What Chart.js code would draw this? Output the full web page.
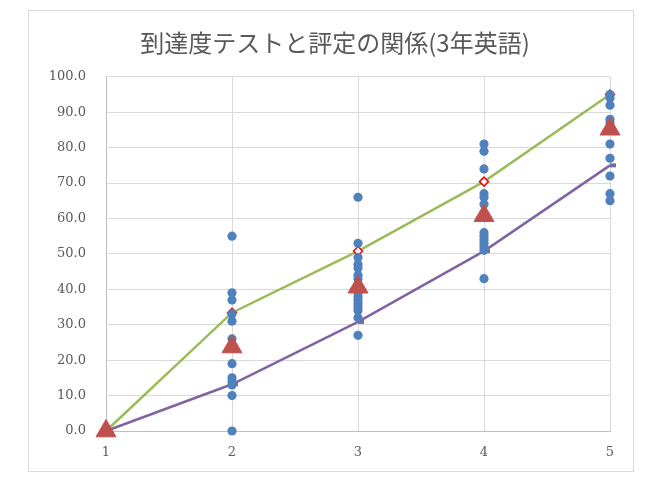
<!DOCTYPE html>
<html>
<head>
<meta charset="utf-8">
<script src="https://cdn.jsdelivr.net/npm/chart.js@4"></script>
<style>
  body { margin: 0; background: #fff; }
  #frame {
    position: absolute; left: 28px; top: 10px;
    width: 604px; height: 460px;
    border: 1px solid #d9d9d9;
  }
  #chart { position: absolute; left: 0; top: 0; }
</style>
</head>
<body>
<div id="frame"></div>
<canvas id="chart" width="670" height="483"></canvas>
<script>
/* =========================================================
   DATA
========================================================= */
const titleText = '到達度テストと評定の関係(3年英語)';
const grades = [1, 2, 3, 4, 5];

// 到達度テストの得点 (評定ごと)
const scoresGrade2 = [55, 39, 37, 33, 31, 26, 19, 15, 14, 13, 10, 0];
const scoresGrade3 = [66, 53, 49, 47, 46, 44, 43, 41, 39, 38, 37, 36, 35, 34, 32, 27];
const scoresGrade4 = [81, 79, 74, 67, 66, 64, 56, 55, 54, 53, 52, 51, 43];
const scoresGrade5 = [95, 94, 92, 88, 87, 81, 77, 72, 67, 65];

// 平均・上限・下限
const meanScores = [0, 23.7, 40.6, 60.8, 85.2];
const upperLine = [0, 33.4, 50.8, 70.4, 95.0];
const lowerLine = [0, 13.2, 30.8, 50.8, 75.0];

/* =========================================================
   BUILD POINTS
========================================================= */
const scoreGroups = [[], scoresGrade2, scoresGrade3, scoresGrade4, scoresGrade5];
const scorePoints = [];
scoreGroups.forEach((list, i) => {
    list.forEach(v => scorePoints.push({ x: grades[i], y: v }));
});
const toXY = arr => arr.map((v, i) => ({ x: grades[i], y: v }));

/* =========================================================
   CHART
========================================================= */
const tickColor = '#595959';

new Chart(document.getElementById('chart'), {
    type: 'scatter',
    data: {
        datasets: [
            {
                label: '平均',
                data: toXY(meanScores),
                clip: false,
                pointStyle: 'triangle',
                pointRadius: 11.5,
                backgroundColor: '#C0504D',
                borderColor: '#C0504D',
                borderWidth: 1
            },
            {
                label: '得点',
                data: scorePoints,
                clip: false,
                pointStyle: 'circle',
                pointRadius: 4.6,
                backgroundColor: '#4F81BD',
                borderColor: '#4F81BD',
                borderWidth: 0
            },
            {
                label: '上限',
                data: toXY(upperLine),
                clip: false,
                showLine: true,
                borderColor: '#9BBB59',
                borderWidth: 2.5,
                pointStyle: 'rectRot',
                pointRadius: 4.5,
                pointBackgroundColor: '#ffffff',
                pointBorderColor: '#FF0000',
                pointBorderWidth: 1.5
            },
            {
                label: '下限',
                data: toXY(lowerLine),
                clip: false,
                showLine: true,
                borderColor: '#8064A2',
                borderWidth: 2.5,
                pointStyle: 'dash',
                pointRadius: 6,
                pointBorderColor: '#8064A2',
                pointBorderWidth: 4
            }
        ]
    },
    options: {
        responsive: false,
        animation: false,
        layout: { padding: { left: 36, right: 36, top: 0, bottom: 0 } },
        plugins: {
            legend: { display: false },
            tooltip: { enabled: false },
            title: {
                display: true,
                text: titleText,
                color: tickColor,
                font: { family: '"Noto Sans CJK JP", sans-serif', size: 24, weight: 'normal' },
                padding: { top: 28, bottom: 20 }
            }
        },
        scales: {
            x: {
                type: 'linear',
                min: 1,
                max: 5,
                afterFit: s => { s.height = 52; },
                grid: { color: '#d9d9d9', drawTicks: false },
                border: { color: '#bfbfbf' },
                ticks: {
                    stepSize: 1,
                    padding: 14,
                    color: tickColor,
                    font: { family: '"DejaVu Serif", serif', size: 13 }
                }
            },
            y: {
                min: 0,
                max: 100,
                afterFit: s => { s.width = 70; },
                grid: { color: '#d9d9d9', drawTicks: false },
                border: { color: '#bfbfbf' },
                ticks: {
                    stepSize: 10,
                    padding: 20,
                    color: tickColor,
                    font: { family: '"DejaVu Serif", serif', size: 13 },
                    callback: v => Number(v).toFixed(1)
                }
            },
            // empty right margin so the title stays centred on the frame
            yRight: {
                position: 'right',
                min: 0,
                max: 100,
                afterFit: s => { s.width = 24; },
                grid: { display: false },
                border: { display: false },
                ticks: { display: false }
            }
        }
    }
});
</script>
</body>
</html>
